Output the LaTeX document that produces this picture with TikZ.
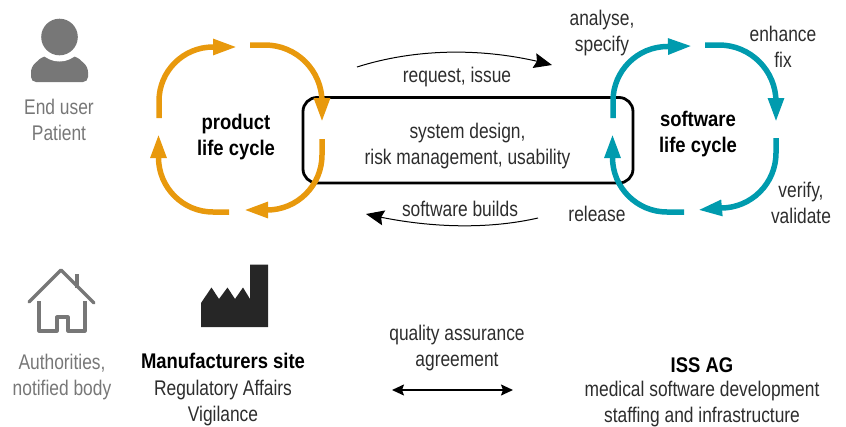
\documentclass[tikz,border=0pt]{standalone}
\usepackage{fontspec}
\setmainfont[FakeStretch=0.82,BoldFeatures={FakeStretch=0.87}]{Liberation Sans}
\usetikzlibrary{arrows.meta,bending}
\definecolor{Ochre}{RGB}{232,153,13}
\definecolor{Petrol}{RGB}{0,155,174}
\definecolor{Slate}{RGB}{119,119,119}
\definecolor{Ink}{RGB}{45,45,45}
\tikzset{
  txt/.style={align=center,inner sep=0pt,font=\fontsize{21.2}{26}\selectfont,text=Ink},
  txtgray/.style={txt,text=Slate},
  txtbold/.style={txt,text=black,font=\fontsize{21.2}{26}\selectfont\bfseries},
  looparc/.style={line width=5.5pt,-{Triangle[length=24pt,width=15pt]}},
  flow/.style={line width=1pt,-{Stealth[length=18pt,width=15pt,inset=2.5pt]}},
}
\begin{document}
\begin{tikzpicture}[x=1pt,y=1pt]
\useasboundingbox (0,-426) rectangle (846,0);
% centre box
\draw[line width=2.8pt,rounded corners=14pt] (303,-97.5) rectangle (633,-183);
\node[txt] (design) at (467.5,-146) {system design,\\risk management, usability};
%
% end user icon
\fill[Slate,rounded corners=5pt] (43,-56) -- (31,-67) -- (31,-82) -- (88,-82) -- (88,-67) -- (76,-56) -- cycle;
\fill[white] (59.5,-37) circle (24.5);
\fill[Slate] (59.5,-37) circle (18.3);
\node[txtgray] (enduser) at (59,-120) {End user\\Patient};
%
% authorities icon
\draw[Slate,line width=3.2pt,line cap=round,line join=round] (29,-302) -- (61,-270) -- (94,-303);
\draw[Slate,line width=3.2pt] (77,-274) -- (77,-288);
\draw[Slate,line width=3.2pt,line join=round] (39,-301) -- (39,-331) -- (57,-331) -- (57,-317) -- (68,-317) -- (68,-331) -- (85,-331) -- (85,-301);
\node[txtgray] (authorities) at (62,-377) {Authorities,\\notified body};
%
% manufacturer icon
\fill[black!85] (201,-327) -- (201,-303) -- (211.5,-287.5) -- (219,-299) -- (227.5,-287.5) -- (235,-299) -- (243,-287.5) -- (250,-299) -- (250,-264.5) -- (268,-264.5) -- (268,-327) -- cycle;
\node[txtbold] (site) at (223,-361) {Manufacturers site};
\node[txt] (affairs) at (223,-403) {Regulatory Affairs\\Vigilance};
%
% product loop
\coordinate (pa) at (159,-118);  \coordinate (pb) at (237,-47);
\coordinate (pc) at (250,-45);   \coordinate (pd) at (322,-122);
\coordinate (pe) at (322,-139);  \coordinate (pf) at (244,-210);
\coordinate (pg) at (229,-212);  \coordinate (ph) at (158.5,-134);
\draw[looparc,Ochre] (pa) -- ++(0,17) arc[start angle=180,end angle=90,radius=54] -- (pb);
\draw[looparc,Ochre] (pc) -- ++(15,0) arc[start angle=90,end angle=0,radius=57] -- (pd);
\draw[looparc,Ochre] (pe) -- ++(0,-16) arc[start angle=0,end angle=-90,radius=55] -- (pf);
\draw[looparc,Ochre] (pg) -- ++(-16,0) arc[start angle=-90,end angle=-180,radius=54.5] -- (ph);
\node[txtbold] (product) at (236,-137) {product\\life cycle};
%
% software loop
\coordinate (sa) at (613,-118);  \coordinate (sb) at (692,-46);
\coordinate (sc) at (705,-45);   \coordinate (sd) at (776,-122);
\coordinate (se) at (776,-138);  \coordinate (sf) at (698,-210);
\coordinate (sg) at (684,-212);  \coordinate (sh) at (612.5,-134);
\draw[looparc,Petrol] (sa) -- ++(0,17) arc[start angle=180,end angle=90,radius=54.5] -- (sb);
\draw[looparc,Petrol] (sc) -- ++(14,0) arc[start angle=90,end angle=0,radius=57] -- (sd);
\draw[looparc,Petrol] (se) -- ++(0,-15) arc[start angle=0,end angle=-90,radius=55] -- (sf);
\draw[looparc,Petrol] (sg) -- ++(-17,0) arc[start angle=-90,end angle=-180,radius=54.5] -- (sh);
\node[txtbold] (software) at (698,-134) {software\\life cycle};
%
% loop labels
\node[txt] (analyse) at (602,-33.5) {analyse,\\specify};
\node[txt] (enhance) at (783,-47) {enhance\\fix};
\node[txt] (verify) at (801,-202.5) {verify,\\validate};
\node[txt] (release) at (597,-214) {release};
%
% arrows between the loops
\coordinate (reqa) at (357,-67);   \coordinate (reqb) at (552,-65);
\coordinate (buia) at (538,-218);  \coordinate (buib) at (366,-214);
\draw[flow] (reqa) .. controls (420,-47) and (490,-48) .. (reqb);
\draw[flow] (buia) .. controls (490,-229) and (430,-229) .. (buib);
\node[txt] (request) at (457,-77) {request, issue};
\node[txt] (builds) at (460,-209) {software builds};
%
% agreement
\node[txt] (quality) at (457,-348) {quality assurance\\agreement};
\coordinate (qa) at (392,-390);  \coordinate (qb) at (513,-390);
\draw[line width=1.5pt,{Stealth[length=12pt,width=11pt,inset=2pt]}-{Stealth[length=12pt,width=11pt,inset=2pt]}] (qa) -- (qb);
\node[txtbold] (iss) at (702,-365) {ISS AG};
\node[txt] (staff) at (702,-404.5) {medical software development\\staffing and infrastructure};
\end{tikzpicture}
\end{document}
